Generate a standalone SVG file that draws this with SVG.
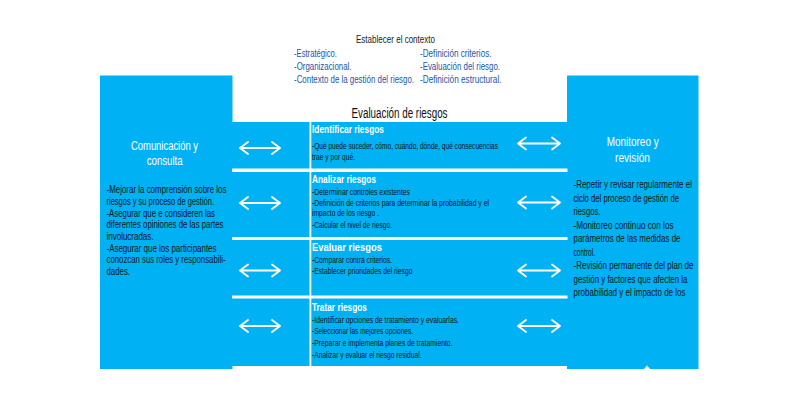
<svg xmlns="http://www.w3.org/2000/svg" width="800" height="400" viewBox="0 0 800 400">
<defs>
<style>
text{font-family:"Liberation Sans Narrow","Liberation Sans",Arial,sans-serif;}
.blue{fill:#00b2f4;}
.sep{fill:#ffffff;}
.ttl{font-size:11.5px;fill:#222;}
.ctx{font-size:11px;fill:#2456a8;}
.head{font-size:14px;fill:#111;}
.ptitle{font-size:13.5px;fill:#ffffff;}
.body{font-size:10.5px;fill:#111;}
.rbody{font-size:10.8px;fill:#111;}
.step{font-size:11px;font-weight:bold;fill:#ffffff;}
.small{font-size:8.8px;fill:#111;}
.arr{fill:none;stroke:#ffffff;stroke-width:1.8;stroke-linecap:round;stroke-linejoin:round;}
</style>
</defs>
<rect width="800" height="400" fill="#ffffff"/>

<g id="contexto">
<text class="ttl" x="356" y="42.5" textLength="79" lengthAdjust="spacingAndGlyphs">Establecer el contexto</text>
<text class="ctx" x="294" y="56.5" textLength="43" lengthAdjust="spacingAndGlyphs">-Estratégico.</text>
<text class="ctx" x="294" y="69.5" textLength="57.5" lengthAdjust="spacingAndGlyphs">-Organizacional.</text>
<text class="ctx" x="294" y="82.5" textLength="120" lengthAdjust="spacingAndGlyphs">-Contexto de la gestión del riesgo.</text>
<text class="ctx" x="420" y="56.5" textLength="71.5" lengthAdjust="spacingAndGlyphs">-Definición criterios.</text>
<text class="ctx" x="420" y="69.5" textLength="80" lengthAdjust="spacingAndGlyphs">-Evaluación del riesgo.</text>
<text class="ctx" x="420" y="82.5" textLength="81.5" lengthAdjust="spacingAndGlyphs">-Definición estructural.</text>
</g>

<g id="comunicacion">
<rect class="blue" x="100" y="75.5" width="132.5" height="293.5"/>
<text class="ptitle" x="131" y="150" textLength="67" lengthAdjust="spacingAndGlyphs">Comunicación y</text>
<text class="ptitle" x="146.7" y="165" textLength="36" lengthAdjust="spacingAndGlyphs">consulta</text>
<text class="body" x="106.5" y="193" textLength="120" lengthAdjust="spacingAndGlyphs">-Mejorar la comprensión sobre los</text>
<text class="body" x="106.5" y="205" textLength="107.5" lengthAdjust="spacingAndGlyphs">riesgos y su proceso de gestión.</text>
<text class="body" x="106.5" y="216.5" textLength="108.5" lengthAdjust="spacingAndGlyphs">-Asegurar que e consideren las</text>
<text class="body" x="106.5" y="228" textLength="117" lengthAdjust="spacingAndGlyphs">diferentes opiniones de las partes</text>
<text class="body" x="106.5" y="240" textLength="47" lengthAdjust="spacingAndGlyphs">involucradas.</text>
<text class="body" x="106.5" y="251.5" textLength="110" lengthAdjust="spacingAndGlyphs">-Asegurar que los participantes</text>
<text class="body" x="106.5" y="263" textLength="119" lengthAdjust="spacingAndGlyphs">conozcan sus roles y responsabili-</text>
<text class="body" x="106.5" y="275" textLength="23.5" lengthAdjust="spacingAndGlyphs">dades.</text>
</g>

<g id="monitoreo">
<rect class="blue" x="567" y="75.5" width="131.5" height="293.5"/>
<polygon points="644,369 647,365.5 650,369" fill="#ffffff"/>
<text class="ptitle" x="606.7" y="146" textLength="52" lengthAdjust="spacingAndGlyphs">Monitoreo y</text>
<text class="ptitle" x="615" y="161.5" textLength="35" lengthAdjust="spacingAndGlyphs">revisión</text>
<text class="rbody" x="573.5" y="188" textLength="118.5" lengthAdjust="spacingAndGlyphs">-Repetir y revisar regularmente el</text>
<text class="rbody" x="573.5" y="201.5" textLength="105.5" lengthAdjust="spacingAndGlyphs">ciclo del proceso de gestión de</text>
<text class="rbody" x="573.5" y="215" textLength="27" lengthAdjust="spacingAndGlyphs">riesgos.</text>
<text class="rbody" x="573.5" y="228.5" textLength="100" lengthAdjust="spacingAndGlyphs">-Monitoreo continuo con los</text>
<text class="rbody" x="573.5" y="242" textLength="107" lengthAdjust="spacingAndGlyphs">parámetros de  las medidas de</text>
<text class="rbody" x="573.5" y="255.5" textLength="21.5" lengthAdjust="spacingAndGlyphs">control.</text>
<text class="rbody" x="573.5" y="269" textLength="120" lengthAdjust="spacingAndGlyphs">-Revisión permanente del plan de</text>
<text class="rbody" x="573.5" y="282.5" textLength="114" lengthAdjust="spacingAndGlyphs">gestión y factores que afecten la</text>
<text class="rbody" x="573.5" y="296" textLength="112" lengthAdjust="spacingAndGlyphs">probabilidad y el impacto de los</text>
</g>

<g id="evaluacion">
<text class="head" x="351.5" y="118" textLength="96" lengthAdjust="spacingAndGlyphs">Evaluación de riesgos</text>
<rect class="blue" x="232" y="122" width="335" height="244"/>
<rect class="sep" x="232" y="168.5" width="335.5" height="3.5"/>
<rect class="sep" x="232" y="237" width="335.5" height="3"/>
<rect class="sep" x="232" y="295.5" width="335.5" height="3"/>
<rect class="sep" x="309.5" y="122" width="1.8" height="244"/>
</g>

<g id="identificar">
<text class="step" x="312" y="133" textLength="72" lengthAdjust="spacingAndGlyphs">Identificar riesgos</text>
<text class="small" x="312" y="149" textLength="186" lengthAdjust="spacingAndGlyphs">-Qué puede suceder, cómo, cuándo, dónde, qué consecuencias</text>
<text class="small" x="312" y="159.5" textLength="43" lengthAdjust="spacingAndGlyphs">trae y por qué.</text>
</g>

<g id="analizar">
<text class="step" x="312" y="182.5" textLength="64" lengthAdjust="spacingAndGlyphs">Analizar riesgos</text>
<text class="small" x="312" y="195" textLength="98" lengthAdjust="spacingAndGlyphs">-Determinar controles existentes</text>
<text class="small" x="312" y="205.5" textLength="177" lengthAdjust="spacingAndGlyphs">-Definición de criterios para determinar la probabilidad y el</text>
<text class="small" x="312" y="216" textLength="67" lengthAdjust="spacingAndGlyphs">impacto de los riesgo .</text>
<text class="small" x="312" y="228" textLength="80" lengthAdjust="spacingAndGlyphs">-Calcular el nivel de riesgo.</text>
</g>

<g id="evaluar">
<text class="step" x="312" y="251" textLength="70" lengthAdjust="spacingAndGlyphs">Evaluar riesgos</text>
<text class="small" x="312" y="263" textLength="80" lengthAdjust="spacingAndGlyphs">-Comparar contra criterios.</text>
<text class="small" x="312" y="274" textLength="100.5" lengthAdjust="spacingAndGlyphs">-Establecer prioridades del riesgo</text>
</g>

<g id="tratar">
<text class="step" x="312" y="311" textLength="55" lengthAdjust="spacingAndGlyphs">Tratar riesgos</text>
<text class="small" x="312" y="322.5" textLength="147" lengthAdjust="spacingAndGlyphs">-Identificar opciones de tratamiento y evaluarlas.</text>
<text class="small" x="312" y="333.5" textLength="101" lengthAdjust="spacingAndGlyphs">-Seleccionar las mejores opciones.</text>
<text class="small" x="312" y="346" textLength="140.5" lengthAdjust="spacingAndGlyphs">-Preparar e implementa planes de tratamiento.</text>
<text class="small" x="312" y="357.5" textLength="109.5" lengthAdjust="spacingAndGlyphs">-Analizar y evaluar el riesgo residual.</text>
</g>

<g id="connectors">
<path class="arr" d="M240,148 H280 M248,142 L240,148 L248,154 M272,142 L280,148 L272,154"/>
<path class="arr" d="M518,143.5 H560 M526,137.5 L518,143.5 L526,149.5 M552,137.5 L560,143.5 L552,149.5"/>
<path class="arr" d="M240,203 H280 M248,197 L240,203 L248,209 M272,197 L280,203 L272,209"/>
<path class="arr" d="M518,202.5 H560 M526,196.5 L518,202.5 L526,208.5 M552,196.5 L560,202.5 L552,208.5"/>
<path class="arr" d="M240,270.5 H280 M248,264.5 L240,270.5 L248,276.5 M272,264.5 L280,270.5 L272,276.5"/>
<path class="arr" d="M518,270.5 H560 M526,264.5 L518,270.5 L526,276.5 M552,264.5 L560,270.5 L552,276.5"/>
<path class="arr" d="M240,326 H280 M248,320 L240,326 L248,332 M272,320 L280,326 L272,332"/>
<path class="arr" d="M518,326 H560 M526,320 L518,326 L526,332 M552,320 L560,326 L552,332"/>
</g>
</svg>
